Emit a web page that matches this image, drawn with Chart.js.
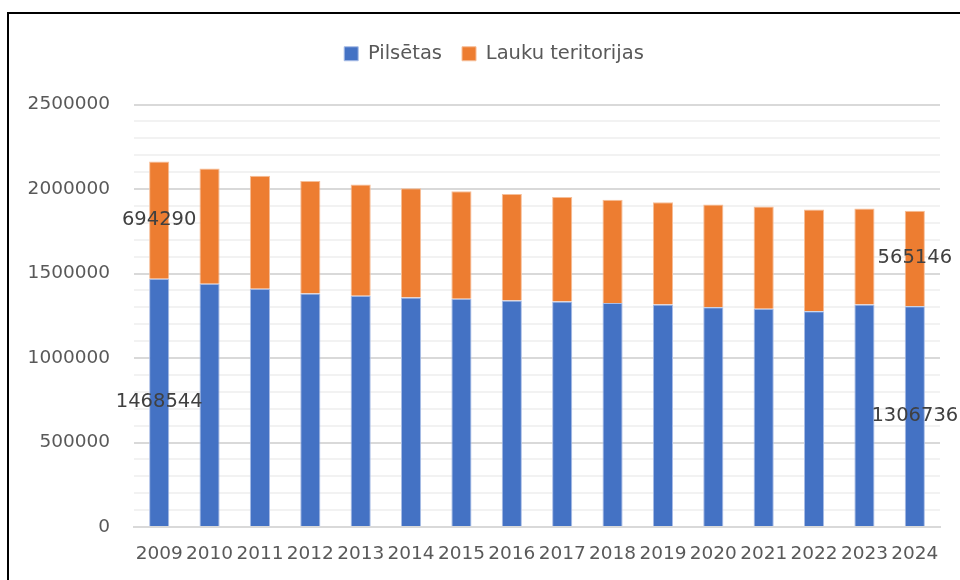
<!DOCTYPE html>
<html>
<head>
<meta charset="utf-8">
<script src="https://cdn.jsdelivr.net/npm/chart.js@4"></script>
<style>
  body { margin: 0; background: #fff; }
  #frame { position: absolute; left: 7px; top: 12px; width: 1100px; height: 700px;
           border-left: 2px solid #000; border-top: 2px solid #000; }
  #wrap { position: absolute; left: 0; top: 0; width: 960px; height: 580px; }
</style>
</head>
<body>
<div id="frame"></div>
<div id="wrap"><canvas id="popChart"></canvas></div>
<script>
// iedzīvotāju skaits pa gadiem
const years = ['2009','2010','2011','2012','2013','2014','2015','2016','2017','2018','2019','2020','2021','2022','2023','2024'];
const urban = [1468544, 1440000, 1410000, 1382000, 1368000, 1358000, 1350000, 1340000, 1334000, 1325000, 1317000, 1300000, 1291000, 1276000, 1317000, 1306736];
const rural = [694290, 682000, 669000, 665000, 658000, 646000, 636000, 630000, 618000, 612000, 604000, 609000, 605000, 602000, 567000, 565146];
const labeledIdx = [0, 15];

const barLabels = {
    id: 'barLabels',
    afterDatasetsDraw(chart) {
        const ctx = chart.ctx;
        ctx.save();
        ctx.font = '19.5px "DejaVu Sans"';
        ctx.fillStyle = '#404040';
        ctx.textAlign = 'center';
        ctx.textBaseline = 'middle';
        chart.data.datasets.forEach((ds, di) => {
            const meta = chart.getDatasetMeta(di);
            labeledIdx.forEach(i => {
                const el = meta.data[i];
                const p = el.getProps(['x', 'y', 'base'], true);
                ctx.fillText(String(ds.data[i]), p.x, (p.y + p.base) / 2);
            });
        });
        ctx.restore();
    }
};

// leģendu pabīda nedaudz pa labi, lai tā būtu virs grafika vidus
const legendShift = {
    id: 'legendShift',
    afterLayout(chart) {
        if (chart.legend) {
            chart.legend.left += 24;
            chart.legend.right += 24;
        }
    }
};

const ctx = document.getElementById('popChart');
new Chart(ctx, {
    type: 'bar',
    data: {
        labels: years,
        datasets: [{
            label: 'Pilsētas',
            data: urban,
            backgroundColor: '#4472c4',
            borderColor: '#a9bde6',
            borderWidth: 1,
            barPercentage: 0.4,
            categoryPercentage: 1
        }, {
            label: 'Lauku teritorijas',
            data: rural,
            backgroundColor: '#ed7d31',
            borderColor: '#f6be98',
            borderWidth: 1,
            barPercentage: 0.4,
            categoryPercentage: 1
        }]
    },
    options: {
        responsive: true,
        maintainAspectRatio: false,
        animation: false,
        layout: { padding: { left: 0, right: 20, top: 24, bottom: 0 } },
        plugins: {
            legend: {
                position: 'top',
                labels: {
                    boxWidth: 14,
                    boxHeight: 14,
                    color: '#595959',
                    padding: 20,
                    font: { family: 'DejaVu Sans', size: 19.5 }
                }
            },
            tooltip: { enabled: false }
        },
        scales: {
            x: {
                stacked: true,
                grid: { display: false, drawTicks: false },
                border: { color: '#d9d9d9', width: 2 },
                ticks: {
                    color: '#595959',
                    padding: 16,
                    maxRotation: 0,
                    autoSkip: false,
                    font: { family: 'DejaVu Sans', size: 18.5 }
                },
                afterFit: (scale) => { scale.height = 53; }
            },
            // tukša augšējā ass – tikai atstarpe starp leģendu un grafiku
            gap: {
                type: 'category',
                position: 'top',
                grid: { display: false, drawTicks: false },
                border: { display: false },
                ticks: { display: false },
                afterFit: (scale) => { scale.height = 31; }
            },
            y: {
                stacked: true,
                min: 0,
                max: 2500000,
                grid: {
                    drawTicks: false,
                    color: (c) => (c.tick && c.tick.value % 500000 === 0) ? '#d9d9d9' : '#f2f2f2',
                    lineWidth: 2
                },
                border: { display: false },
                ticks: {
                    stepSize: 100000,
                    autoSkip: false,
                    color: '#595959',
                    padding: 24,
                    font: { family: 'DejaVu Sans', size: 18.5 },
                    callback: (v) => (v % 500000 === 0) ? String(v) : ''
                },
                afterFit: (scale) => { scale.width = 134; }
            }
        }
    },
    plugins: [barLabels, legendShift]
});
</script>
</body>
</html>
